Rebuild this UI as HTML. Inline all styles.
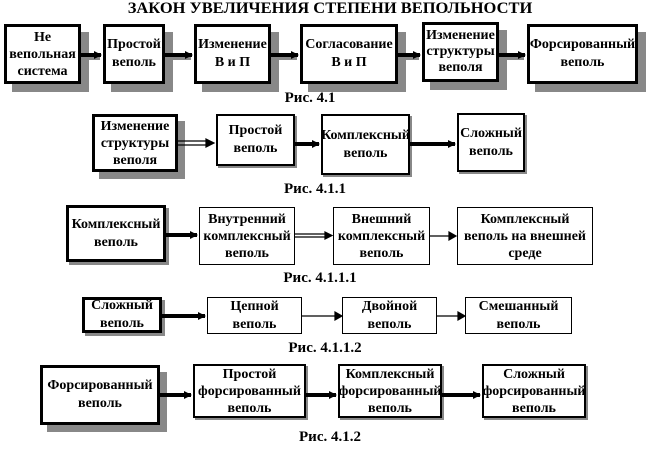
<!DOCTYPE html>
<html><head><meta charset="utf-8">
<style>
body{margin:0;width:662px;height:456px;background:#fff;position:relative;overflow:hidden;font-family:"Liberation Serif","DejaVu Serif",serif;font-weight:bold;color:#000}
.b{position:absolute;border:2px solid #000;background:#fff;box-sizing:border-box;display:flex;align-items:center;justify-content:center;text-align:center;font-size:14px;line-height:18px;z-index:2;white-space:nowrap}
.t{border-width:3px}
.n{border-width:1.5px}
.s{position:absolute;background:#888;z-index:1}
.c{position:absolute;font-size:15px;text-align:center;width:200px}
.l3{line-height:17px}
svg{position:absolute;left:0;top:0;z-index:3}
</style></head><body>
<div style="position:absolute;left:110px;top:0px;width:440px;text-align:center;font-size:16px;transform:scaleX(1.03)">ЗАКОН УВЕЛИЧЕНИЯ СТЕПЕНИ ВЕПОЛЬНОСТИ</div>

<!-- row1 -->
<div class="s" style="left:12px;top:32px;width:77px;height:60px"></div>
<div class="b t l3" style="left:4px;top:24px;width:77px;height:60px">Не<br>вепольная<br>система</div>
<div class="s" style="left:111px;top:32px;width:62px;height:60px"></div>
<div class="b t" style="left:103px;top:24px;width:62px;height:60px">Простой<br>веполь</div>
<div class="s" style="left:202px;top:32px;width:77px;height:60px"></div>
<div class="b t" style="left:194px;top:24px;width:77px;height:60px">Изменение<br>В и П</div>
<div class="s" style="left:308px;top:32px;width:98px;height:60px"></div>
<div class="b t" style="left:300px;top:24px;width:98px;height:60px">Согласование<br>В и П</div>
<div class="s" style="left:430px;top:30px;width:77px;height:60px"></div>
<div class="b t" style="left:422px;top:22px;width:77px;height:60px;line-height:16px">Изменение<br>структуры<br>веполя</div>
<div class="s" style="left:535px;top:32px;width:111px;height:60px"></div>
<div class="b t" style="left:527px;top:24px;width:111px;height:60px">Форсированный<br>веполь</div>
<div class="c" style="left:210px;top:90px">Рис. 4.1</div>

<!-- row2 -->
<div class="s" style="left:99px;top:121px;width:86px;height:58px"></div>
<div class="b t l3" style="left:92px;top:114px;width:86px;height:58px">Изменение<br>структуры<br>веполя</div>
<div class="s" style="left:218px;top:116px;width:79px;height:52px"></div>
<div class="b" style="left:216px;top:114px;width:79px;height:52px">Простой<br>веполь</div>
<div class="s" style="left:323px;top:116px;width:89px;height:61px"></div>
<div class="b" style="left:321px;top:114px;width:89px;height:61px">Комплексный<br>веполь</div>
<div class="s" style="left:459px;top:115px;width:68px;height:59px"></div>
<div class="b" style="left:457px;top:113px;width:68px;height:59px">Сложный<br>веполь</div>
<div class="c" style="left:215px;top:181px">Рис. 4.1.1</div>

<!-- row3 -->
<div class="s" style="left:69px;top:208px;width:100px;height:57px"></div>
<div class="b t" style="left:66px;top:205px;width:100px;height:57px">Комплексный<br>веполь</div>
<div class="b n l3" style="left:199px;top:207px;width:96px;height:58px">Внутренний<br>комплексный<br>веполь</div>
<div class="b n l3" style="left:333px;top:207px;width:97px;height:58px">Внешний<br>комплексный<br>веполь</div>
<div class="b n l3" style="left:457px;top:207px;width:136px;height:58px">Комплексный<br>веполь на внешней<br>среде</div>
<div class="c" style="left:220px;top:270px">Рис. 4.1.1.1</div>

<!-- row4 -->
<div class="s" style="left:85px;top:300px;width:80px;height:36px"></div>
<div class="b t" style="left:82px;top:297px;width:80px;height:36px">Сложный<br>веполь</div>
<div class="b n" style="left:207px;top:297px;width:95px;height:37px">Цепной<br>веполь</div>
<div class="b n" style="left:342px;top:297px;width:95px;height:37px">Двойной<br>веполь</div>
<div class="b n" style="left:465px;top:297px;width:107px;height:37px">Смешанный<br>веполь</div>
<div class="c" style="left:225px;top:340px">Рис. 4.1.1.2</div>

<!-- row5 -->
<div class="s" style="left:47px;top:372px;width:120px;height:60px"></div>
<div class="b t" style="left:40px;top:365px;width:120px;height:60px">Форсированный<br>веполь</div>
<div class="s" style="left:195px;top:366px;width:113px;height:54px"></div>
<div class="b l3" style="left:193px;top:364px;width:113px;height:54px">Простой<br>форсированный<br>веполь</div>
<div class="s" style="left:340px;top:366px;width:104px;height:54px"></div>
<div class="b l3" style="left:338px;top:364px;width:104px;height:54px">Комплексный<br>форсированный<br>веполь</div>
<div class="s" style="left:484px;top:366px;width:104px;height:54px"></div>
<div class="b l3" style="left:482px;top:364px;width:104px;height:54px">Сложный<br>форсированный<br>веполь</div>
<div class="c" style="left:230px;top:429px">Рис. 4.1.2</div>

<svg width="662" height="456" viewBox="0 0 662 456">
<defs>
<marker id="a2" markerWidth="8" markerHeight="8" refX="7" refY="4" orient="auto" markerUnits="userSpaceOnUse"><path d="M0,0 L8,4 L0,8 z" fill="#000"/></marker>
</defs>
<g stroke="#888" stroke-width="4">
<line x1="84" y1="58" x2="100" y2="58"/><line x1="168" y1="58" x2="191" y2="58"/><line x1="274" y1="58" x2="297" y2="58"/><line x1="401" y1="58" x2="419" y2="58"/><line x1="502" y1="58" x2="524" y2="58"/>
</g>
<g stroke="#000" stroke-width="4">
<line x1="81" y1="55" x2="101" y2="55" marker-end="url(#a2)"/>
<line x1="165" y1="55" x2="192" y2="55" marker-end="url(#a2)"/>
<line x1="271" y1="55" x2="298" y2="55" marker-end="url(#a2)"/>
<line x1="398" y1="55" x2="420" y2="55" marker-end="url(#a2)"/>
<line x1="499" y1="55" x2="525" y2="55" marker-end="url(#a2)"/>
<line x1="295" y1="144" x2="319" y2="144" marker-end="url(#a2)"/>
<line x1="410" y1="144" x2="455" y2="144" marker-end="url(#a2)"/>
<line x1="166" y1="235" x2="197" y2="235" marker-end="url(#a2)"/>
<line x1="162" y1="316" x2="205" y2="316" marker-end="url(#a2)"/>
<line x1="160" y1="395" x2="191" y2="395" marker-end="url(#a2)"/>
<line x1="306" y1="395" x2="336" y2="395" marker-end="url(#a2)"/>
<line x1="442" y1="395" x2="480" y2="395" marker-end="url(#a2)"/>
</g>
<g stroke="#000" stroke-width="1.2" fill="none">
<line x1="178" y1="141" x2="208" y2="141"/><line x1="178" y1="145" x2="208" y2="145"/>
<path d="M206,139 L214,143 L206,147 z" fill="#000"/>
<line x1="295" y1="234" x2="326" y2="234"/><line x1="295" y1="237" x2="326" y2="237"/>
<path d="M325,232 L332,235.5 L325,239 z" fill="#000"/>
<line x1="430" y1="236" x2="450" y2="236"/>
<path d="M449,232 L456,236 L449,240 z" fill="#000"/>
<line x1="302" y1="316" x2="336" y2="316"/>
<path d="M335,312 L342,316 L335,320 z" fill="#000"/>
<line x1="437" y1="316" x2="459" y2="316"/>
<path d="M458,312 L465,316 L458,320 z" fill="#000"/>
</g>
</svg>
</body></html>
